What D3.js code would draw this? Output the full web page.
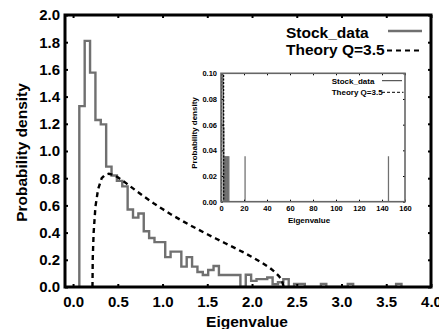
<!DOCTYPE html>
<html>
<head>
<meta charset="utf-8">
<script src="https://cdn.jsdelivr.net/npm/d3@7"></script>
<style>
    body { margin: 0; background: #fff; }
    svg { display: block; font-family: "Liberation Sans", Arial, sans-serif; font-weight: bold; }
</style>
</head>
<body>
<svg id="chart" width="439" height="329"></svg>
<script>
// histogram of the stock eigenvalues: [bin start, density]
const binWidth = 0.06;
const stockBins = [
    [0.07, 1.33], [0.13, 1.81], [0.19, 1.576], [0.25, 1.228], [0.31, 1.196],
    [0.37, 0.885], [0.43, 0.82], [0.49, 0.78], [0.55, 0.74], [0.61, 0.57],
    [0.67, 0.51], [0.73, 0.54], [0.79, 0.41], [0.85, 0.36], [0.91, 0.33],
    [0.97, 0.33], [1.03, 0.22], [1.09, 0.26], [1.15, 0.26], [1.21, 0.15],
    [1.27, 0.22], [1.33, 0.15], [1.39, 0.11], [1.45, 0.088], [1.51, 0.125],
    [1.57, 0.154], [1.63, 0.088], [1.69, 0.088], [1.75, 0.088], [1.81, 0.088],
    [1.87, 0], [1.93, 0.09], [1.99, 0.045], [2.05, 0.058], [2.11, 0.058],
    [2.17, 0.07], [2.23, 0.02], [2.29, 0.035], [2.35, 0.058], [2.41, 0],
    [2.47, 0.022], [2.53, 0.022], [2.59, 0], [2.65, 0], [2.71, 0],
    [2.77, 0.022], [2.83, 0], [2.89, 0], [2.95, 0], [3.01, 0],
    [3.07, 0.022], [3.13, 0], [3.19, 0], [3.25, 0], [3.31, 0],
    [3.37, 0], [3.43, 0], [3.49, 0], [3.55, 0], [3.61, 0.022]
];

// theory curve Q=3.5: [eigenvalue, density]
const theoryPoints = [
    [0.217, 0], [0.22, 0.21], [0.23, 0.40], [0.25, 0.59], [0.28, 0.72],
    [0.32, 0.80], [0.36, 0.826], [0.40, 0.833], [0.45, 0.825], [0.50, 0.807],
    [0.60, 0.76], [0.70, 0.71], [0.80, 0.662], [0.90, 0.616], [1.00, 0.573],
    [1.10, 0.532], [1.20, 0.494], [1.30, 0.457], [1.40, 0.422], [1.50, 0.388],
    [1.60, 0.355], [1.70, 0.322], [1.80, 0.289], [1.90, 0.256], [2.00, 0.221],
    [2.10, 0.183], [2.20, 0.14], [2.25, 0.113], [2.30, 0.08], [2.33, 0.054],
    [2.355, 0]
];

// isolated large eigenvalues shown in the inset
const insetSpikes = [2.6, 3.2, 3.8, 4.4, 5.0, 5.6, 6.2, 6.8, 20.9, 145.6];
const insetSpikeDensity = 0.035;

const xTicks = [0, 0.5, 1, 1.5, 2, 2.5, 3, 3.5, 4];
const yTicks = [0, 0.2, 0.4, 0.6, 0.8, 1.0, 1.2, 1.4, 1.6, 1.8, 2.0];
const insetXTicks = [0, 20, 40, 60, 80, 100, 120, 140, 160];
const insetYTicks = [0, 0.02, 0.04, 0.06, 0.08, 0.10];

const stockColor = "#707070";

let svg = d3.select("#chart");

// main plot scales
let x = d3.scaleLinear().domain([-0.09, 4]).range([65, 431]);
let y = d3.scaleLinear().domain([0, 2]).range([287, 15]);

// turn the bins into an outline path
function histPoints(bins) {
    let pts = [[bins[0][0], 0]];
    bins.forEach(b => {
        pts.push([b[0], b[1]]);
        pts.push([b[0] + binWidth, b[1]]);
    });
    pts.push([bins[bins.length - 1][0] + binWidth, 0]);
    return pts;
}

svg.append("defs").append("clipPath").attr("id", "mainClip")
    .append("rect").attr("x", 65).attr("y", 15).attr("width", 366).attr("height", 272);

let lineMain = d3.line().x(d => x(d[0])).y(d => y(d[1]));

let plot = svg.append("g").attr("clip-path", "url(#mainClip)");

plot.append("path")
    .attr("d", lineMain(histPoints(stockBins)))
    .attr("fill", "none")
    .attr("stroke", stockColor)
    .attr("stroke-width", 2.4)
    .attr("stroke-linejoin", "miter");

plot.append("path")
    .attr("d", lineMain(theoryPoints))
    .attr("fill", "none")
    .attr("stroke", "#000")
    .attr("stroke-width", 2.4)
    .attr("stroke-dasharray", "5,4");

// axes with inner ticks
let bottomAxis = svg.append("g")
    .attr("transform", "translate(0,287)")
    .call(d3.axisBottom(x).tickValues(xTicks).tickSize(-3).tickPadding(9).tickFormat(d3.format(".1f")));
let leftAxis = svg.append("g")
    .attr("transform", "translate(65,0)")
    .call(d3.axisLeft(y).tickValues(yTicks).tickSize(-3).tickPadding(5).tickFormat(d3.format(".1f")));
let topAxis = svg.append("g")
    .attr("transform", "translate(0,15)")
    .call(d3.axisTop(x).tickValues(xTicks).tickSize(-3).tickFormat(""));
let rightAxis = svg.append("g")
    .attr("transform", "translate(431,0)")
    .call(d3.axisRight(y).tickValues(yTicks).tickSize(-3).tickFormat(""));

[bottomAxis, leftAxis, topAxis, rightAxis].forEach(g => {
    g.select(".domain").remove();
    g.selectAll(".tick line").attr("stroke", "#000").attr("stroke-width", 2);
    g.selectAll(".tick text").attr("fill", "#000").attr("font-size", 15).attr("font-family", null);
});

svg.append("rect")
    .attr("x", 65).attr("y", 15).attr("width", 366).attr("height", 272)
    .attr("fill", "none").attr("stroke", "#000").attr("stroke-width", 3);

// axis titles
svg.append("text")
    .attr("x", 247).attr("y", 327)
    .attr("text-anchor", "middle").attr("font-size", 15.5)
    .text("Eigenvalue");
svg.append("text")
    .attr("transform", "translate(27,152.5) rotate(-90)")
    .attr("text-anchor", "middle").attr("font-size", 15.5)
    .text("Probability density");

// legend
let legend = svg.append("g").attr("font-size", 15.5);
legend.append("text").attr("x", 286).attr("y", 37.5).text("Stock_data");
legend.append("line").attr("x1", 388).attr("x2", 422).attr("y1", 31).attr("y2", 31)
    .attr("stroke", stockColor).attr("stroke-width", 2.4);
legend.append("text").attr("x", 286).attr("y", 54.5).text("Theory Q=3.5");
legend.append("line").attr("x1", 387).attr("x2", 422).attr("y1", 50.5).attr("y2", 50.5)
    .attr("stroke", "#000").attr("stroke-width", 2).attr("stroke-dasharray", "5,4");

// ---------------- inset ----------------
let ix = d3.scaleLinear().domain([0, 160]).range([221, 405]);
let iy = d3.scaleLinear().domain([0, 0.1]).range([201.7, 73.3]);

svg.select("defs").append("clipPath").attr("id", "insetClip")
    .append("rect").attr("x", 221).attr("y", 73.3).attr("width", 184).attr("height", 128.4);

svg.append("rect")
    .attr("x", 221).attr("y", 73.3).attr("width", 184).attr("height", 128.4)
    .attr("fill", "#fff");

let inset = svg.append("g").attr("clip-path", "url(#insetClip)");
let lineInset = d3.line().x(d => ix(d[0])).y(d => iy(d[1]));

inset.append("path")
    .attr("d", lineInset(histPoints(stockBins)))
    .attr("fill", "none").attr("stroke", stockColor).attr("stroke-width", 1);

inset.selectAll(".spike")
    .data(insetSpikes)
    .join("path")
    .attr("class", "spike")
    .attr("d", d => lineInset([[d, 0], [d, insetSpikeDensity], [d + binWidth, insetSpikeDensity], [d + binWidth, 0]]))
    .attr("fill", "none").attr("stroke", stockColor).attr("stroke-width", 1.2);

inset.append("path")
    .attr("d", lineInset(theoryPoints))
    .attr("fill", "none").attr("stroke", "#000").attr("stroke-width", 1.2)
    .attr("stroke-dasharray", "2,1.5");

let iBottom = svg.append("g").attr("transform", "translate(0,201.7)")
    .call(d3.axisBottom(ix).tickValues(insetXTicks).tickSize(-2).tickPadding(3.5));
let iLeft = svg.append("g").attr("transform", "translate(221,0)")
    .call(d3.axisLeft(iy).tickValues(insetYTicks).tickSize(-2).tickPadding(4).tickFormat(d3.format(".2f")));
let iTop = svg.append("g").attr("transform", "translate(0,73.3)")
    .call(d3.axisTop(ix).tickValues(insetXTicks).tickSize(-2).tickFormat(""));
let iRight = svg.append("g").attr("transform", "translate(405,0)")
    .call(d3.axisRight(iy).tickValues(insetYTicks).tickSize(-2).tickFormat(""));

[iBottom, iLeft, iTop, iRight].forEach(g => {
    g.select(".domain").remove();
    g.selectAll(".tick line").attr("stroke", "#000").attr("stroke-width", 1);
    g.selectAll(".tick text").attr("fill", "#000").attr("font-size", 7.5).attr("font-family", null);
});

svg.append("rect")
    .attr("x", 221).attr("y", 73.3).attr("width", 184).attr("height", 128.4)
    .attr("fill", "none").attr("stroke", "#666").attr("stroke-width", 1.6);

svg.append("text")
    .attr("x", 309).attr("y", 222.5)
    .attr("text-anchor", "middle").attr("font-size", 8)
    .text("Eigenvalue");
svg.append("text")
    .attr("transform", "translate(197,133) rotate(-90)")
    .attr("text-anchor", "middle").attr("font-size", 8)
    .text("Probability density");

let iLegend = svg.append("g").attr("font-size", 8);
iLegend.append("text").attr("x", 331.7).attr("y", 83.5).text("Stock_data");
iLegend.append("line").attr("x1", 382).attr("x2", 402).attr("y1", 80.7).attr("y2", 80.7)
    .attr("stroke", "#333").attr("stroke-width", 1);
iLegend.append("text").attr("x", 331.7).attr("y", 95.2).text("Theory Q=3.5");
iLegend.append("line").attr("x1", 382).attr("x2", 403.5).attr("y1", 92.3).attr("y2", 92.3)
    .attr("stroke", "#000").attr("stroke-width", 1).attr("stroke-dasharray", "3,2");
</script>
</body>
</html>
